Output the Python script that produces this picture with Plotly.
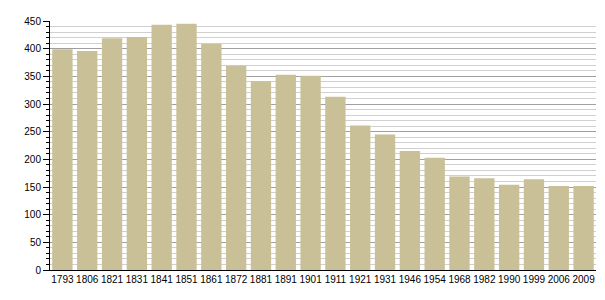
import plotly.graph_objects as go

years = ["1793", "1806", "1821", "1831", "1841", "1851", "1861", "1872", "1881", "1891", "1901",
         "1911", "1921", "1931", "1946", "1954", "1968", "1982", "1990", "1999", "2006", "2009"]
population = [399, 396, 419, 421, 443, 445, 409, 369, 341, 353, 351,
              313, 261, 245, 215, 203, 169, 166, 154, 164, 152, 152]

y_ticks = [0, 50, 100, 150, 200, 250, 300, 350, 400, 450]

fig = go.Figure(go.Bar(x=years, y=population, marker=dict(color="#c9c097", line=dict(width=0))))

fig.update_layout(
    width=605, height=300,
    margin=dict(l=50, r=9, t=21, b=30),
    paper_bgcolor="white", plot_bgcolor="white",
    bargap=0.18,
    showlegend=False,
    font=dict(family="Liberation Sans, Arial, sans-serif", size=10, color="#000"),
)
fig.update_xaxes(type="category", range=[-0.5, len(years) - 0.5], showline=True, linecolor="#000",
                 linewidth=1, ticks="", showgrid=False, tickangle=0, tickfont=dict(size=10))
fig.update_yaxes(range=[0, 450], tickvals=y_ticks, showline=True, linecolor="#000", linewidth=1,
                 ticks="outside", ticklen=6, tickcolor="#000", showgrid=True, gridcolor="#a0a0a0",
                 gridwidth=1, zeroline=False, tickfont=dict(size=10),
                 minor=dict(dtick=10, showgrid=True, gridcolor="#d0d0d0", ticks="outside",
                            ticklen=3, tickcolor="#000"))

fig.write_html("out.html")
